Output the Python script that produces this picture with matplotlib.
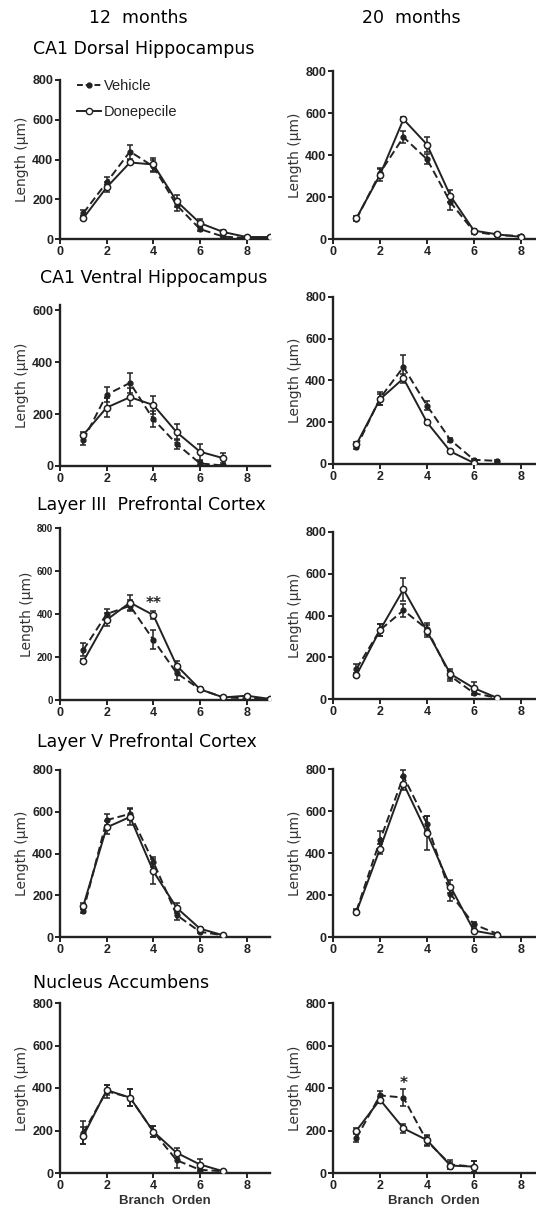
import numpy as np
import matplotlib.pyplot as plt
from matplotlib.lines import Line2D

# branch orders and dendritic length (um), mean and SEM
x9 = [1, 2, 3, 4, 5, 6, 7, 8, 9]
x8 = [1, 2, 3, 4, 5, 6, 7, 8]
x7 = [1, 2, 3, 4, 5, 6, 7]
x6 = [1, 2, 3, 4, 5, 6]

dorsal12_veh = [130, 285, 440, 365, 170, 50, 12, 5, 5]
dorsal12_veh_err = [15, 25, 35, 30, 30, 10, 5, 3, 3]
dorsal12_don = [105, 260, 385, 375, 190, 80, 35, 10, 10]
dorsal12_don_err = [10, 25, 10, 35, 30, 20, 8, 5, 5]

dorsal20_veh = [95, 315, 485, 380, 175, 35, 18, 15]
dorsal20_veh_err = [8, 25, 30, 25, 35, 10, 5, 5]
dorsal20_don = [100, 305, 570, 450, 205, 40, 22, 10]
dorsal20_don_err = [8, 30, 10, 35, 30, 10, 5, 5]

ventral12_veh = [100, 275, 320, 180, 85, 10, 2]
ventral12_veh_err = [20, 30, 40, 30, 20, 8, 2]
ventral12_don = [120, 225, 265, 235, 130, 55, 30]
ventral12_don_err = [10, 35, 35, 35, 30, 30, 20]

ventral20_veh = [80, 315, 465, 280, 115, 20, 15]
ventral20_veh_err = [8, 30, 55, 20, 10, 5, 5]
ventral20_don = [95, 310, 410, 200, 60, 5]
ventral20_don_err = [8, 25, 20, 10, 8, 3]

layer3_12_veh = [233, 400, 438, 280, 125, 50, 12, 8, 5]
layer3_12_veh_err = [30, 25, 25, 45, 30, 10, 5, 5, 3]
layer3_12_don = [180, 373, 453, 395, 160, 50, 12, 20, 5]
layer3_12_don_err = [10, 30, 35, 20, 20, 8, 5, 5, 3]

layer3_20_veh = [145, 330, 425, 335, 110, 28, 5]
layer3_20_veh_err = [25, 30, 30, 30, 25, 8, 3]
layer3_20_don = [115, 330, 525, 325, 120, 52, 5]
layer3_20_don_err = [10, 30, 55, 30, 25, 30, 3]

layer5_12_veh = [125, 560, 590, 360, 105, 25, 8]
layer5_12_veh_err = [10, 30, 30, 25, 25, 8, 3]
layer5_12_don = [150, 525, 575, 315, 140, 40, 8]
layer5_12_don_err = [15, 30, 40, 60, 25, 8, 3]

layer5_20_veh = [125, 460, 765, 540, 205, 60, 15]
layer5_20_veh_err = [10, 45, 30, 35, 35, 10, 5]
layer5_20_don = [120, 420, 730, 495, 240, 30, 10]
layer5_20_don_err = [10, 25, 30, 80, 30, 8, 3]

nacc12_veh = [190, 385, 355, 195, 60, 15, 8]
nacc12_veh_err = [55, 30, 40, 25, 35, 10, 3]
nacc12_don = [175, 390, 355, 195, 95, 40, 8]
nacc12_don_err = [40, 25, 40, 25, 25, 25, 3]

nacc20_veh = [165, 365, 355, 150, 40, 30]
nacc20_veh_err = [20, 20, 40, 25, 20, 25]
nacc20_don = [200, 345, 210, 155, 35, 30]
nacc20_don_err = [10, 15, 20, 25, 15, 25]

col_titles = ["12  months", "20  months"]
row_titles = ["CA1 Dorsal Hippocampus", "CA1 Ventral Hippocampus",
              "Layer III  Prefrontal Cortex", "Layer V Prefrontal Cortex",
              "Nucleus Accumbens"]

W, H = 536, 1216
fig = plt.figure(figsize=(W / 100, H / 100), dpi=100)
INK = '#222222'


def add_ax(x0, x1, ytop, ybot):
    # pixel box -> figure fraction
    return fig.add_axes([x0 / W, 1 - ybot / H, (x1 - x0) / W, (ybot - ytop) / H])


def panel(ax, xv, veh, veh_err, xd, don, don_err, xmax, ymax, yticks, ytick_fs=9):
    ax.errorbar(xv, veh, yerr=veh_err, color=INK, lw=1.4, ls=(0, (4, 2)),
                marker='o', ms=3.5, mfc=INK, mec=INK, capsize=2.5,
                elinewidth=1.1, capthick=1.1, zorder=3)
    ax.errorbar(xd, don, yerr=don_err, color=INK, lw=1.4, ls='-',
                marker='o', ms=4.5, mfc='white', mec=INK, mew=1.1, capsize=2.5,
                elinewidth=1.1, capthick=1.1, zorder=4)
    ax.set_xlim(0, xmax)
    ax.set_ylim(0, ymax)
    ax.set_xticks([0, 2, 4, 6, 8])
    ax.set_yticks(yticks)
    for s in ['top', 'right']:
        ax.spines[s].set_visible(False)
    for s in ['left', 'bottom']:
        ax.spines[s].set_linewidth(1.7)
        ax.spines[s].set_color(INK)
    ax.tick_params(direction='out', length=3.5, width=1.4, color=INK, pad=1.5)
    for lab in ax.get_xticklabels():
        lab.set_fontfamily('Liberation Sans')
        lab.set_fontweight('bold')
        lab.set_fontsize(9)
        lab.set_color(INK)
    for lab in ax.get_yticklabels():
        lab.set_fontfamily('Liberation Sans')
        lab.set_fontweight('bold')
        lab.set_fontsize(ytick_fs)
        lab.set_color(INK)
    ax.set_ylabel("Length (µm)", fontsize=10, family='DejaVu Sans', color='#333333', labelpad=2)
    ax.patch.set_alpha(0)


y800 = [0, 200, 400, 600, 800]
y600 = [0, 200, 400, 600]

LX0, LX1 = 60, 270     # left column, x 0..9
RX0, RX1 = 333, 535    # right column, x 0..8.6

ax1 = add_ax(LX0, LX1, 80, 239)
panel(ax1, x9, dorsal12_veh, dorsal12_veh_err, x9, dorsal12_don, dorsal12_don_err, 9, 800, y800)
ax2 = add_ax(RX0, RX1, 71, 239)
panel(ax2, x8, dorsal20_veh, dorsal20_veh_err, x8, dorsal20_don, dorsal20_don_err, 8.6, 800, y800)

ax3 = add_ax(LX0, LX1, 305, 466)
panel(ax3, x7, ventral12_veh, ventral12_veh_err, x7, ventral12_don, ventral12_don_err, 9, 620, y600)
ax4 = add_ax(RX0, RX1, 297, 464)
panel(ax4, x7, ventral20_veh, ventral20_veh_err, x6, ventral20_don, ventral20_don_err, 8.6, 800, y800)

ax5 = add_ax(LX0, LX1, 528, 700)
panel(ax5, x9, layer3_12_veh, layer3_12_veh_err, x9, layer3_12_don, layer3_12_don_err, 9, 800, y800, ytick_fs=7)
ax6 = add_ax(RX0, RX1, 532, 699)
panel(ax6, x7, layer3_20_veh, layer3_20_veh_err, x7, layer3_20_don, layer3_20_don_err, 8.6, 800, y800)

ax7 = add_ax(LX0, LX1, 770, 937)
panel(ax7, x7, layer5_12_veh, layer5_12_veh_err, x7, layer5_12_don, layer5_12_don_err, 9, 800, y800)
ax8 = add_ax(RX0, RX1, 769, 937)
panel(ax8, x7, layer5_20_veh, layer5_20_veh_err, x7, layer5_20_don, layer5_20_don_err, 8.6, 800, y800)

ax9 = add_ax(LX0, LX1, 1003, 1173)
panel(ax9, x7, nacc12_veh, nacc12_veh_err, x7, nacc12_don, nacc12_don_err, 9, 800, y800)
ax10 = add_ax(RX0, RX1, 1003, 1173)
panel(ax10, x6, nacc20_veh, nacc20_veh_err, x6, nacc20_don, nacc20_don_err, 8.6, 800, y800)

for ax in (ax9, ax10):
    ax.set_xlabel("Branch  Orden", fontsize=9.5, family='Liberation Sans',
                  fontweight='bold', color='#333333', labelpad=2)

# significance marks
ax5.text(4, 415, "**", ha='center', va='bottom', fontsize=11, fontweight='bold', color=INK)
ax10.text(3, 385, "*", ha='center', va='bottom', fontsize=11, fontweight='bold', color=INK)

# legend
handles = [Line2D([], [], color=INK, lw=1.4, ls=(0, (3, 1.5)), marker='o', ms=3.5,
                  mfc=INK, mec=INK),
           Line2D([], [], color=INK, lw=1.4, ls='-', marker='o', ms=4.5,
                  mfc='white', mec=INK)]
leg = ax1.legend(handles, ["Vehicle", "Donepecile"], loc='upper left',
                 bbox_to_anchor=(0.02, 1.09), frameon=False, handlelength=1.6,
                 handletextpad=0.2, labelspacing=0.85,
                 prop={'family': 'Liberation Sans', 'size': 10.5})
for t in leg.get_texts():
    t.set_color(INK)

# titles
fig.text(138 / W, 1 - 18 / H, col_titles[0], ha='center', va='center', fontsize=12.5, color='black')
fig.text(411 / W, 1 - 18 / H, col_titles[1], ha='center', va='center', fontsize=12.5, color='black')
row_y = [49, 278, 505, 742, 983]
row_x = [33, 40, 37, 37, 33]
for t, yy, xx in zip(row_titles, row_y, row_x):
    fig.text(xx / W, 1 - yy / H, t, ha='left', va='center', fontsize=12.5, color='black')

fig.savefig("out.png", dpi=100)
